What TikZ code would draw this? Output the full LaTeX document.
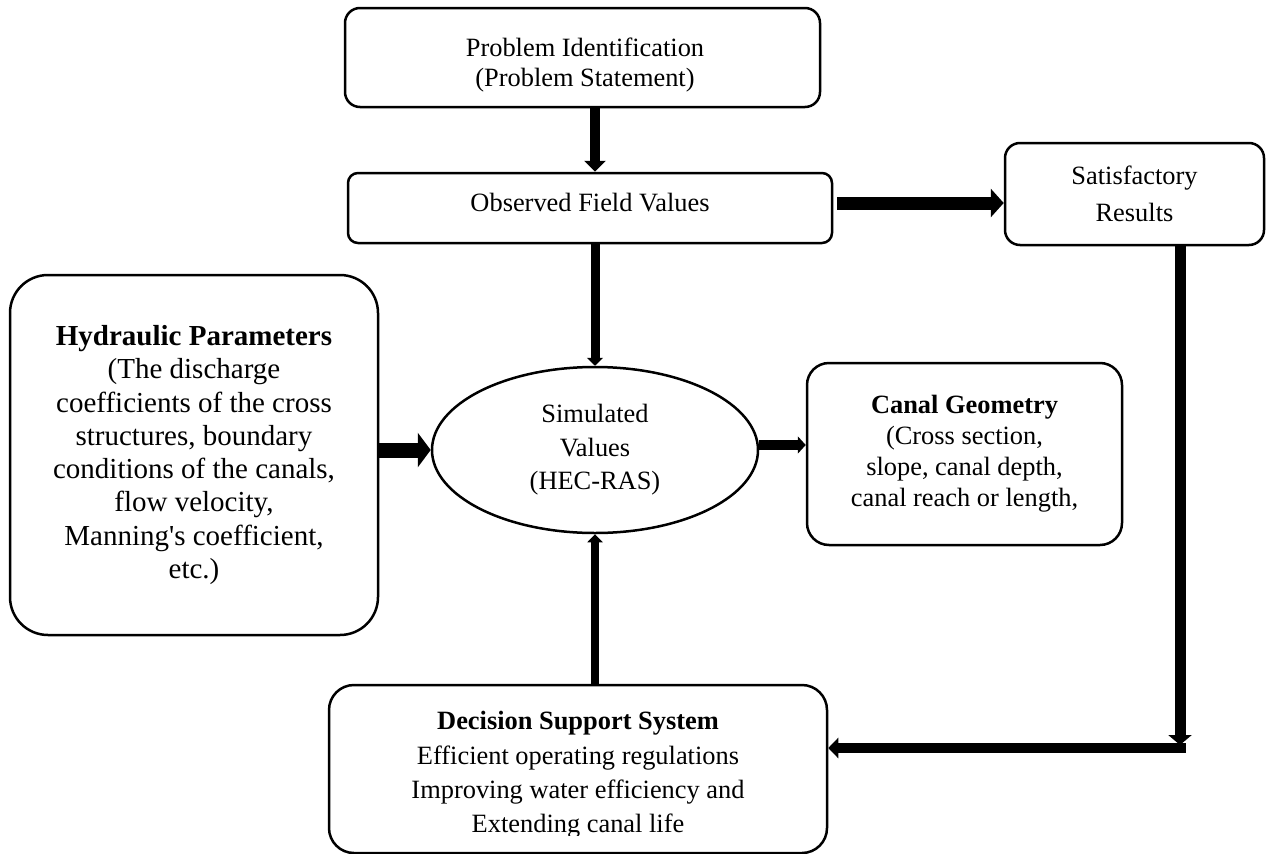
\documentclass[tikz,border=0pt]{standalone}
\usepackage{fontspec}
\setmainfont{Liberation Serif}
\newfontfamily\straightq{Liberation Serif}[Ligatures=TeXOff]
\usetikzlibrary{arrows.meta,shapes.geometric}
\tikzset{
  box/.style={draw, line width=2.5pt, rounded corners=#1, inner sep=0pt, align=center},
  txt/.style={align=center, inner sep=0pt},
  fnt/.style={font=\fontsize{26.4}{#1}\selectfont},
  arr/.style n args={3}{line width=#1, -{Triangle[width=#2,length=#3]}}
}
\begin{document}
\begin{tikzpicture}[x=1pt,y=-1pt]
\useasboundingbox (0,0) rectangle (1272,854);
% boxes
\node[box=15pt, minimum width=475pt, minimum height=99pt] (top) at (582.5,57.5) {};
\node[txt, fnt=30] (toptext) at (585,65) {Problem Identification\\(Problem Statement)};
\node[box=10pt, minimum width=484pt, minimum height=70pt] (obs) at (590,208) {};
\node[txt, fnt=30] (obstext) at (590,203) {Observed Field Values};
\node[box=15pt, minimum width=259pt, minimum height=102pt, fnt=37] (sat) at (1134.5,194) {Satisfactory\\Results};
\node[box=38pt, minimum width=368pt, minimum height=360pt, font=\fontsize{29}{33.3}\selectfont] (hyd) at (194,455)
  {\textbf{Hydraulic Parameters}\\(The discharge\\coefficients of the cross\\structures, boundary\\conditions of the canals,\\flow velocity,\\Manning{\straightq'}s coefficient,\\etc.)};
\node[draw, ellipse, line width=2.5pt, minimum width=326pt, minimum height=166pt, inner sep=0pt, align=center, fnt=33.5] (ell) at (595,450)
  {Simulated\\Values\\(HEC-RAS)};
\node[box=22pt, minimum width=315pt, minimum height=182pt, fnt=31] (geo) at (964.5,454)
  {\textbf{Canal Geometry}\\(Cross section,\\slope, canal depth,\\canal reach or length,};
\node[box=25pt, minimum width=498pt, minimum height=168pt] (dss) at (578,769) {};
\begin{scope}
  \clip (329,685) rectangle (827,835);
  \node[txt, fnt=34.3] (dsstext) at (578,775)
    {\textbf{Decision Support System}\\Efficient operating regulations\\Improving water efficiency and\\Extending canal life};
\end{scope}
% corner coordinates
\coordinate (vend) at (1180,745);
\coordinate (hstart) at (1185.5,748);
% connectors
\draw[arr={10pt}{21pt}{11pt}] (ell.north |- top.south) -- (ell.north |- obs.north);
\draw[arr={13pt}{28pt}{13pt}] ([xshift=4pt,yshift=5pt]obs.east) -- ([yshift=5pt]obs.east -| sat.west);
\draw[arr={9pt}{16pt}{8pt}] (ell.north |- obs.south) -- (ell.north);
\draw[arr={15pt}{34pt}{13pt}] (ell.west -| hyd.east) -- (ell.west);
\draw[arr={10pt}{17pt}{8pt}] ([yshift=5pt]ell.east) -- ([yshift=5pt]ell.east -| geo.west);
\draw[arr={8pt}{15pt}{8pt}] (ell.south |- dss.north) -- (ell.south);
\draw[arr={11pt}{23pt}{10pt}] (vend |- sat.south) -- (vend);
\draw[arr={10pt}{20pt}{10pt}] (hstart) -- (hstart -| dss.east);
\end{tikzpicture}
\end{document}
